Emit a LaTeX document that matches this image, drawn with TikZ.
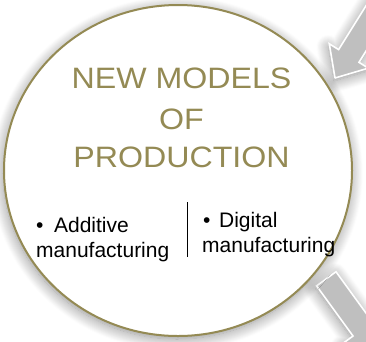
\documentclass[tikz,border=0pt]{standalone}
\usepackage{fontspec}
\setmainfont{Liberation Sans}
\newfontfamily\titlefont[FakeStretch=1.09]{Liberation Sans}
\usetikzlibrary{shadows.blur}
\definecolor{olivering}{HTML}{948A54}
\definecolor{arrowgray}{RGB}{191,191,191}
\tikzset{
  softshadow/.style={blur shadow={shadow blur steps=14, shadow xshift=-1pt,
      shadow yshift=-3pt, shadow blur radius=12pt, shadow opacity=45}},
  ring/.style={draw=olivering, line width=2pt, fill=white, softshadow},
  blockarrow/.style={fill=arrowgray, draw=white, line width=1.6pt, softshadow},
  titleline/.style={text=olivering, font=\titlefont\fontsize{29.5}{30}\selectfont,
      anchor=base, inner sep=0pt},
  itemline/.style={font=\fontsize{21}{22}\selectfont, anchor=base west, inner sep=0pt},
}
\newcommand{\arrowbody}{(0,0) -- (-26,23) -- (-26,12) -- (-130,12) -- (-130,-12)
  -- (-26,-12) -- (-26,-23) -- cycle}
\begin{document}
\begin{tikzpicture}[x=1pt, y=-1pt]
    \useasboundingbox (0,0) rectangle (366,341);
    \clip (0,0) rectangle (366,341);
    % arrows at the right edge
    \begin{scope}[shift={(335,78)}, rotate=238]
        \draw[blockarrow] \arrowbody;
    \end{scope}
    \begin{scope}[shift={(378,350)}, rotate=-54]
        \draw[blockarrow] (0,0) -- (-26,23) -- (-26,12) -- (-88,12) -- (-88,-12)
            -- (-26,-12) -- (-26,-23) -- cycle;
    \end{scope}
    % the circle
    \draw[ring] (178,170.5) ellipse [x radius=174pt, y radius=165.5pt];
    % title
    \node[titleline] (newmodels) at (181.5,88) {NEW MODELS};
    \node[titleline] (of) at (181.5,129) {OF};
    \node[titleline] (production) at (181.5,167) {PRODUCTION};
    % the two items
    \node[itemline] (additive) at (36,232) {•\hspace{10.6pt}Additive};
    \node[itemline] (addmanu) at (36,257) {manufacturing};
    \node[itemline] (digital) at (203,227) {•\hspace{8.6pt}Digital};
    \node[itemline] (digmanu) at (202,252) {manufacturing};
    \coordinate (divtop) at (187,202);
    \coordinate (divbot) at (187,257);
    \draw[line width=1pt] (divtop) -- (divbot);
\end{tikzpicture}
\end{document}
